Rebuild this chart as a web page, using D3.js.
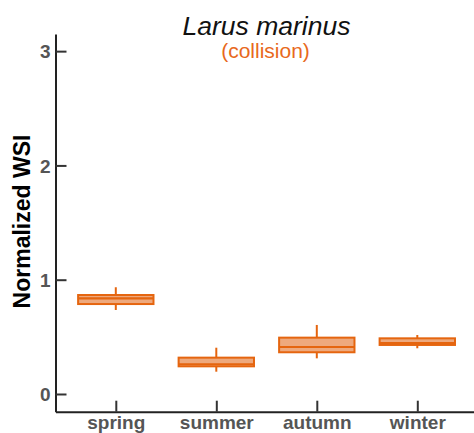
<!DOCTYPE html>
<html>
<head>
<meta charset="utf-8">
<script src="https://cdn.jsdelivr.net/npm/d3@7"></script>
<style>
  html, body { margin: 0; padding: 0; background: #fff; }
  svg { display: block; font-family: "Liberation Sans", Arial, sans-serif; }
</style>
</head>
<body>
<svg id="chart" width="474" height="433"></svg>
<script>
// Seasonal WSI distribution for Larus marinus (collision)
const seasons = ["spring", "summer", "autumn", "winter"];
const whiskerLow  = [0.735, 0.195, 0.312, 0.400];
const quartile1   = [0.787, 0.242, 0.365, 0.429];
const medians     = [0.837, 0.260, 0.411, 0.446];
const quartile3   = [0.866, 0.318, 0.493, 0.487];
const whiskerHigh = [0.934, 0.405, 0.604, 0.516];
const yTicks = [0, 1, 2, 3];

const dark = "#e5650f";
const light = "#eea97d";

const svg = d3.select("#chart");

const x = d3.scaleLinear().domain([0.4, 4.6]).range([55.5, 477.6]);
const y = d3.scaleLinear().domain([-0.155, 3.15]).range([411.7, 34]);
const boxW = 0.75;

// axes
const yAxis = svg.append("g")
  .attr("transform", `translate(${x(0.4)},0)`)
  .call(d3.axisLeft(y).tickValues(yTicks).tickFormat(d3.format("d"))
    .tickSizeInner(-11).tickSizeOuter(0).tickPadding(5));

const xAxis = svg.append("g")
  .attr("transform", `translate(0,${y(-0.155)})`)
  .call(d3.axisBottom(x).tickValues(seasons.map((d, i) => i + 1))
    .tickFormat((d) => seasons[d - 1])
    .tickSizeInner(-11).tickSizeOuter(0).tickPadding(4));

[yAxis, xAxis].forEach(g => {
  g.select(".domain").attr("stroke", "#222").attr("stroke-width", 2);
  g.selectAll(".tick line").attr("stroke", "#333").attr("stroke-width", 2);
  g.selectAll(".tick text")
    .attr("fill", "#555")
    .attr("font-weight", "bold")
    .attr("font-size", 19)
    .attr("font-family", "Liberation Sans, Arial, sans-serif");
});
yAxis.selectAll(".tick text").attr("dy", "0.35em");

// boxes
const boxes = svg.append("g").selectAll("g")
  .data(seasons.map((s, i) => ({
    s, pos: i + 1,
    lo: whiskerLow[i], q1: quartile1[i], med: medians[i], q3: quartile3[i], hi: whiskerHigh[i]
  })))
  .join("g");

boxes.append("line")
  .attr("x1", d => x(d.pos)).attr("x2", d => x(d.pos))
  .attr("y1", d => y(d.lo)).attr("y2", d => y(d.hi))
  .attr("stroke", dark).attr("stroke-width", 2);

boxes.append("rect")
  .attr("x", d => x(d.pos - boxW / 2))
  .attr("width", d => x(d.pos + boxW / 2) - x(d.pos - boxW / 2))
  .attr("y", d => y(d.q3))
  .attr("height", d => y(d.q1) - y(d.q3))
  .attr("fill", light)
  .attr("stroke", dark).attr("stroke-width", 2);

boxes.append("line")
  .attr("x1", d => x(d.pos - boxW / 2)).attr("x2", d => x(d.pos + boxW / 2))
  .attr("y1", d => y(d.med)).attr("y2", d => y(d.med))
  .attr("stroke", dark).attr("stroke-width", 2.2);

// titles
svg.append("text")
  .attr("x", 266.5).attr("y", 35)
  .attr("text-anchor", "middle")
  .attr("font-style", "italic")
  .attr("font-size", 26.5)
  .attr("fill", "#111")
  .text("Larus marinus");

svg.append("text")
  .attr("x", 265.5).attr("y", 58)
  .attr("text-anchor", "middle")
  .attr("font-size", 21)
  .attr("fill", "#e8691c")
  .text("(collision)");

svg.append("text")
  .attr("transform", `translate(30,${221.5}) rotate(-90)`)
  .attr("text-anchor", "middle")
  .attr("font-weight", "bold")
  .attr("font-size", 23)
  .attr("fill", "#000")
  .text("Normalized WSI");
</script>
</body>
</html>
